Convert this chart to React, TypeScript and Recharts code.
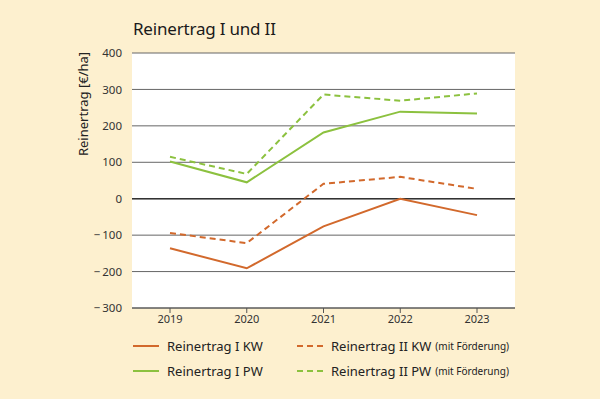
import React from "react"
import { LineChart, Line, XAxis, YAxis, CartesianGrid, ReferenceLine } from "recharts"

const years = ["2019", "2020", "2021", "2022", "2023"]
const kwI = [-136, -191, -76, 0, -45]
const kwII = [-94, -122, 41, 60, 27]
const pwI = [102, 45, 182, 239, 234]
const pwII = [115, 68, 286, 269, 289]
const yTicks = [-300, -200, -100, 0, 100, 200, 300, 400]

const ORANGE = "#d2692c"
const GREEN = "#8cc13f"
const FONT = "'Noto Sans', sans-serif"

const data = years.map((y, i) => ({ year: y, kwI: kwI[i], kwII: kwII[i], pwI: pwI[i], pwII: pwII[i] }))

const fmt = (v: number) => (v < 0 ? `\u2212\u2009${Math.abs(v)}` : `${v}`)

function LegendItem({ x, y, color, dashed, label }: { x: number; y: number; color: string; dashed?: boolean; label: string }) {
  return (
    <div style={{ position: "absolute", left: x, top: y, display: "flex", alignItems: "center", whiteSpace: "nowrap" }}>
      <svg width={26} height={4} style={{ marginRight: 8 }}>
        <line x1={0} y1={2} x2={26} y2={2} stroke={color} strokeWidth={2} strokeDasharray={dashed ? "6 4" : undefined} />
      </svg>
      <span style={{ fontSize: 13, color: "#222" }}>{label}</span>
      {dashed && <span style={{ fontSize: 10, color: "#222", marginLeft: 4 }}>(mit Förderung)</span>}
    </div>
  )
}

export default function App() {
  return (
    <div style={{ position: "fixed", left: 0, top: 0, width: 600, height: 399, background: "#fdf0cf", fontFamily: FONT }}>
      <div style={{ position: "absolute", left: 133, top: 17, fontSize: 17, color: "#1a1a1a", letterSpacing: -0.2 }}>Reinertrag I und II</div>
      <svg width={40} height={200} style={{ position: "absolute", left: 62, top: 0 }}>
        <text x={21} y={104} transform="rotate(-90 21 104)" textAnchor="middle" dominantBaseline="central" fontSize={13} fill="#222" fontFamily={FONT}>
          Reinertrag [€/ha]
        </text>
      </svg>
      <LineChart width={600} height={399} data={data} margin={{ top: 53, right: 85, bottom: 61, left: 0 }}>
        <CartesianGrid vertical={false} stroke="#666" fill="#fff" horizontalValues={yTicks} />
        <XAxis
          dataKey="year"
          height={30}
          padding={{ left: 38, right: 38 }}
          axisLine={{ stroke: "#555" }}
          tickLine={{ stroke: "#555" }}
          tickSize={5}
          tick={{ fontSize: 11, fill: "#333", fontFamily: FONT }}
        />
        <YAxis
          width={132}
          domain={[-300, 400]}
          ticks={yTicks}
          axisLine={false}
          tickLine={false}
          tickMargin={4}
          tickFormatter={fmt}
          tick={{ fontSize: 11.5, fill: "#333", fontFamily: FONT }}
        />
        <ReferenceLine y={0} stroke="#333" strokeWidth={1.6} />
        <Line dataKey="kwI" stroke={ORANGE} strokeWidth={2} dot={false} isAnimationActive={false} />
        <Line dataKey="kwII" stroke={ORANGE} strokeWidth={2} strokeDasharray="6 4" dot={false} isAnimationActive={false} />
        <Line dataKey="pwI" stroke={GREEN} strokeWidth={2} dot={false} isAnimationActive={false} />
        <Line dataKey="pwII" stroke={GREEN} strokeWidth={2} strokeDasharray="6 4" dot={false} isAnimationActive={false} />
      </LineChart>
      <LegendItem x={133} y={337} color={ORANGE} label="Reinertrag I KW" />
      <LegendItem x={297} y={337} color={ORANGE} dashed label="Reinertrag II KW" />
      <LegendItem x={133} y={362} color={GREEN} label="Reinertrag I PW" />
      <LegendItem x={297} y={362} color={GREEN} dashed label="Reinertrag II PW" />
    </div>
  )
}
